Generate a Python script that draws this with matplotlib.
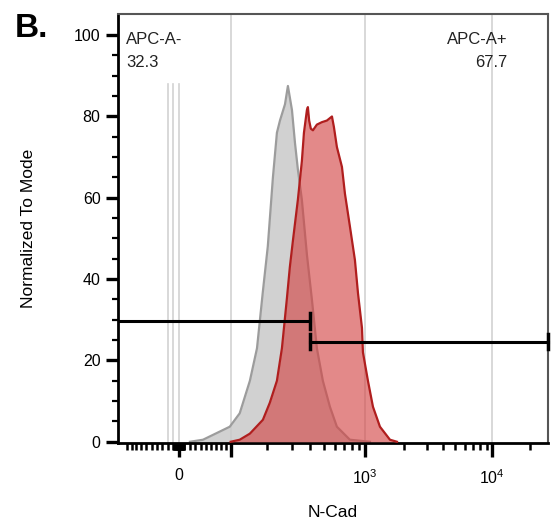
import numpy as np
import matplotlib.pyplot as plt
from matplotlib.ticker import FixedLocator, FixedFormatter

# ----------------------------
# Data
# ----------------------------
# isotype / unstained control (gray)
GRAY_X = [20, 44, 98, 121, 147, 167, 185, 201, 219, 234, 246, 267, 280, 299, 314,
          329, 351, 381, 413, 448, 494, 555, 623, 775, 1092]
GRAY_Y = [0, 0.5, 3.7, 7, 15, 23, 37, 48, 65, 76, 79, 83, 87.5, 81.6, 73.5,
          67, 59.5, 46, 35, 23, 15, 8.6, 3.7, 0.5, 0]

# N-Cad stained sample (red)
RED_X = [100, 121, 147, 185, 208, 234, 254, 275, 289, 304, 329, 351, 363, 381, 387,
         395, 406, 420, 448, 486, 528, 574, 593, 623, 678, 713, 775, 844, 889, 952,
         968, 1055, 1151, 1300, 1550, 1754]
RED_Y = [0, 0.5, 2, 5.4, 9.6, 15, 23, 35, 43, 49.6, 59.5, 69, 76, 81.6, 82.3,
         79, 77, 76.6, 78, 78.6, 79, 80, 77.4, 72.5, 67.6, 61, 53, 44.7, 36.6, 28,
         22, 15, 8.6, 3.7, 0.5, 0]

GATE_NAMES = ["APC-A-", "APC-A+"]
GATE_PCTS = ["32.3", "67.7"]
GATE_SPLIT = 400
GATE_LEVELS = [29.7, 24.6]

X_MIN, X_MAX = -121, 28200
Y_MIN, Y_MAX = -0.3, 105.2

X_MAJOR = [0, 100, 1000, 10000]
X_MAJOR_LABELS = ["0", "", "$10^3$", "$10^4$"]
X_MINOR = ([-v for v in range(10, 101, 10)] + [-v for v in range(1, 10)]
           + list(range(1, 10)) + list(range(10, 100, 10))
           + list(range(200, 1000, 100)) + list(range(2000, 10000, 1000)) + [20000])
X_GRID = [100, 1000, 10000]
X_GRID_LOW = [-20, -10, 0]

# ----------------------------
# Look
# ----------------------------
FONT = "Liberation Sans"
GRAY_FILL = "#c9c9c9"
GRAY_EDGE = "#9c9c9c"
RED_FILL = "#d44444"
RED_EDGE = "#b01e1e"
GRID_COLOR = "#d2d2d2"

# ----------------------------
# Biexponential (logicle-like) axis
# ----------------------------
BIEX_C = 27.3
BIEX_P = 2.5


def _biex(y):
    y = np.asarray(y, dtype=float)
    a = np.abs(y)
    g = np.exp(a) - BIEX_P ** 2 * np.exp(-a / BIEX_P) + BIEX_P ** 2 - 1
    return np.sign(y) * BIEX_C * g


_YS = np.linspace(-4, 9, 6001)
_XS = _biex(_YS)


def biex_forward(x):
    return np.interp(np.asarray(x, dtype=float), _XS, _YS)


def biex_inverse(y):
    return _biex(y)


plt.rcParams['font.family'] = [FONT, 'DejaVu Sans']
plt.rcParams['mathtext.default'] = 'regular'

fig = plt.figure(figsize=(5.56, 5.29), dpi=100)
ax = fig.add_axes([0.2122, 0.1626, 0.7734, 0.8109])
ax.set_xscale('function', functions=(biex_forward, biex_inverse))
ax.set_xlim(X_MIN, X_MAX)
ax.set_ylim(Y_MIN, Y_MAX)

# grid lines
for gx in X_GRID:
    ax.axvline(gx, color=GRID_COLOR, lw=1.2, zorder=0.5)
top_frac = (88 - Y_MIN) / (Y_MAX - Y_MIN)
for gx in X_GRID_LOW:
    ax.axvline(gx, ymax=top_frac, color=GRID_COLOR, lw=1.2, zorder=0.5)

# histograms
ax.fill_between(GRAY_X, GRAY_Y, 0, color=GRAY_FILL, alpha=0.85, lw=0, zorder=1)
ax.plot(GRAY_X, GRAY_Y, color=GRAY_EDGE, lw=1.6, zorder=2)
ax.fill_between(RED_X, RED_Y, 0, color=RED_FILL, alpha=0.63, lw=0, zorder=3)
ax.plot(RED_X, RED_Y, color=RED_EDGE, lw=1.6, zorder=4)

# gates
cap = 1.9
ax.plot([X_MIN, GATE_SPLIT], [GATE_LEVELS[0]] * 2, color='black', lw=2.2, zorder=5)
ax.plot([GATE_SPLIT] * 2, [GATE_LEVELS[0] - cap, GATE_LEVELS[0] + cap], color='black', lw=2.5, zorder=5)
ax.plot([GATE_SPLIT, X_MAX], [GATE_LEVELS[1]] * 2, color='black', lw=2.2, zorder=5, clip_on=False)
ax.plot([GATE_SPLIT] * 2, [GATE_LEVELS[1] - cap, GATE_LEVELS[1] + cap], color='black', lw=2.5, zorder=5)
ax.plot([X_MAX] * 2, [GATE_LEVELS[1] - cap, GATE_LEVELS[1] + cap], color='black', lw=2.5, zorder=5, clip_on=False)

# gate labels
ax.text(0.019, 0.958, GATE_NAMES[0], transform=ax.transAxes, ha='left', va='top', fontsize=12, color='#222222')
ax.text(0.019, 0.905, GATE_PCTS[0], transform=ax.transAxes, ha='left', va='top', fontsize=12, color='#222222')
ax.text(0.905, 0.958, GATE_NAMES[1], transform=ax.transAxes, ha='right', va='top', fontsize=12, color='#222222')
ax.text(0.905, 0.905, GATE_PCTS[1], transform=ax.transAxes, ha='right', va='top', fontsize=12, color='#222222')

# ticks
ax.xaxis.set_major_locator(FixedLocator(X_MAJOR))
ax.xaxis.set_major_formatter(FixedFormatter(X_MAJOR_LABELS))
ax.xaxis.set_minor_locator(FixedLocator(X_MINOR))
ax.set_yticks(range(0, 101, 20))
ax.set_yticks(range(0, 101, 5), minor=True)
ax.tick_params(axis='x', which='major', length=10, width=2.4, pad=8, labelsize=11.5)
ax.tick_params(axis='x', which='minor', length=5, width=1.8)
ax.tick_params(axis='y', which='major', length=8.5, width=2.4, pad=4, labelsize=11.5)
ax.tick_params(axis='y', which='minor', length=4, width=1.6)

for side in ['left', 'bottom']:
    ax.spines[side].set_linewidth(2)
    ax.spines[side].set_color('black')
for side in ['top', 'right']:
    ax.spines[side].set_linewidth(1.5)
    ax.spines[side].set_color('#555555')

ax.set_xlabel("N-Cad", fontsize=12.5)
ax.set_ylabel("Normalized To Mode", fontsize=12.5)
ax.xaxis.set_label_coords(0.5, -0.145)
ax.yaxis.set_label_coords(-0.19, 0.5)

fig.text(0.027, 0.975, "B.", fontsize=24, fontweight='bold', va='top', ha='left')

fig.savefig("out.png", dpi=100)
